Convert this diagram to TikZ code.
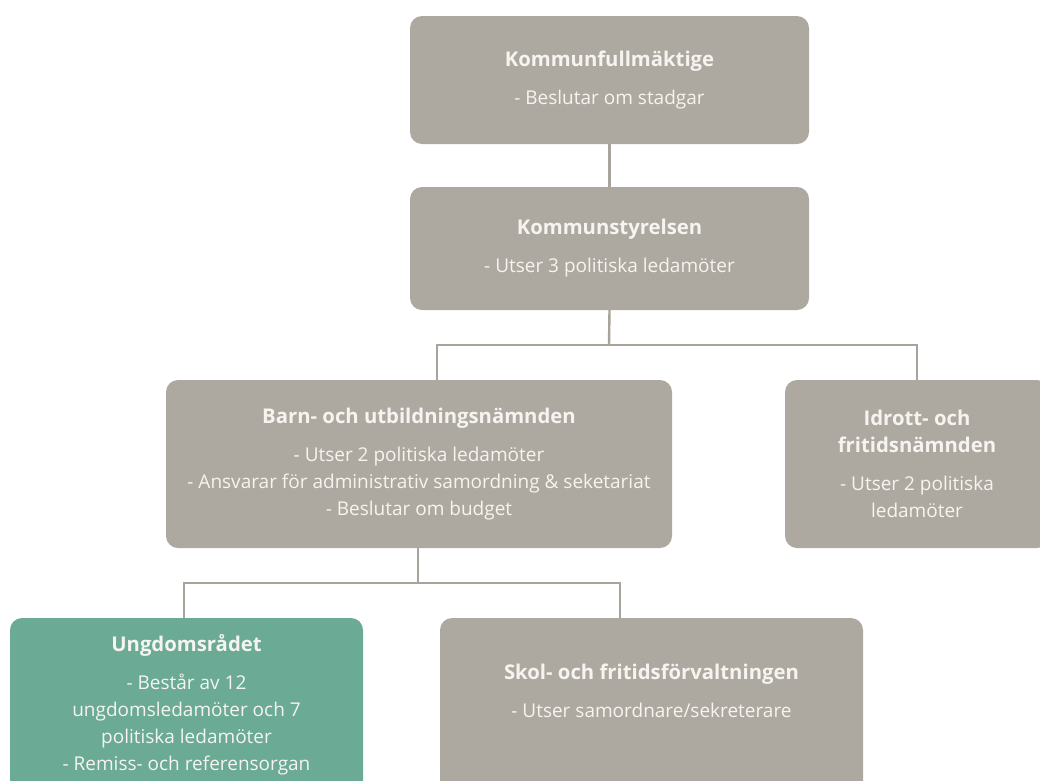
\documentclass[tikz,border=0pt]{standalone}
\usepackage{fontspec}
\setmainfont{Open Sans}
\definecolor{boxgrey}{HTML}{AEA9A0}
\definecolor{boxgreen}{HTML}{6BAA95}
\definecolor{linegrey}{HTML}{A9A49B}
\definecolor{boxtext}{HTML}{F6F4F0}
\newcommand{\boxtitle}[1]{{\fontsize{20.3}{27}\selectfont\bfseries #1}}
\begin{document}
\begin{tikzpicture}[x=1pt,y=-1pt,
  boxfont/.style={text=boxtext, align=center, font=\fontsize{19}{27}\selectfont},
  orgbox/.style={boxfont, fill=boxgrey, rounded corners=12pt, inner sep=0pt},
  youthbox/.style={orgbox, fill=boxgreen},
  link/.style={draw=linegrey, line width=2.4pt}]
\useasboundingbox (0,0) rectangle (1040,780);
\clip (0,0) rectangle (1040,780);

% organisation boxes
\node[orgbox, minimum width=399pt, minimum height=128pt] (kf) at (609.5,80)
  {\boxtitle{Kommunfullmäktige}\\[11pt]- Beslutar om stadgar};
\node[orgbox, minimum width=399pt, minimum height=123pt] (ks) at (609.5,248.5)
  {\boxtitle{Kommunstyrelsen}\\[11pt]- Utser 3 politiska ledamöter};
\node[orgbox, minimum width=506pt, minimum height=168pt] (bun) at (419,464)
  {\boxtitle{Barn- och utbildningsnämnden}\\[11pt]- Utser 2 politiska ledamöter\\
   - Ansvarar för administrativ samordning \& seketariat\\- Beslutar om budget};
\node[orgbox, minimum width=264pt, minimum height=168pt] (ifn) at (917,464)
  {\boxtitle{Idrott- och}\\\boxtitle{fritidsnämnden}\\[11pt]- Utser 2 politiska\\ledamöter};
\node[youthbox, minimum width=353pt, minimum height=174pt] (ur) at (186.5,705)
  {\boxtitle{Ungdomsrådet}\\[11pt]- Består av 12\\ungdomsledamöter och 7\\
   politiska ledamöter\\- Remiss- och referensorgan};
\node[orgbox, minimum width=423pt, minimum height=180pt] (sff) at (651.5,708) {};
\node[boxfont] (sfftext) at (651.5,691)
  {\boxtitle{Skol- och fritidsförvaltningen}\\[11pt]- Utser samordnare/sekreterare};

% junction points of the connector tree
\coordinate (j1) at (609,345);
\coordinate (j2) at (418,583);

% connectors
\draw[link] (kf.south) -- (ks.north);
\draw[link] (ks.south) -- (j1);
\draw[link] ([xshift=18pt]bun.north) |- (j1) -| (ifn.north);
\draw[link] (bun.south -| j2) -- (j2);
\draw[link] ([xshift=-2.5pt]ur.north) |- (j2) -| ([xshift=-31.5pt]sff.north);
\end{tikzpicture}
\end{document}
